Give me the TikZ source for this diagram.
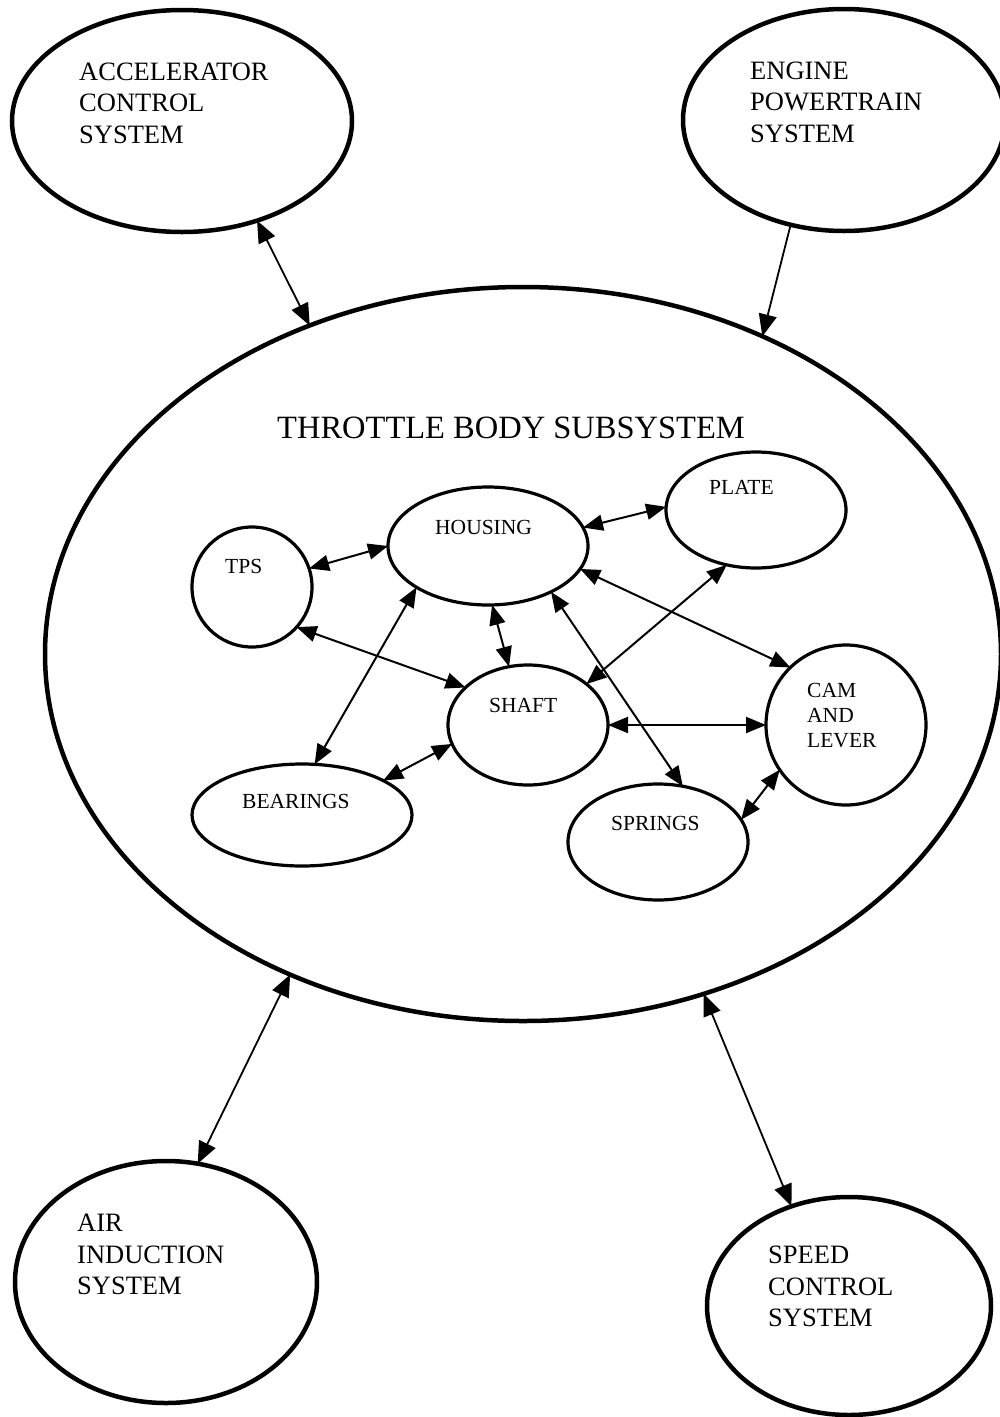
\documentclass[tikz,border=0pt]{standalone}
\usepackage{fontspec}
\setmainfont{Liberation Serif}
\usetikzlibrary{shapes.geometric,arrows.meta}
\begin{document}
\begin{tikzpicture}[x=1pt,y=-1pt,
  outerell/.style={draw, ellipse, line width=4.5pt, inner sep=0pt, outer sep=0pt},
  innerell/.style={draw, ellipse, line width=3.2pt, inner sep=0pt, outer sep=0pt},
  bigtext/.style={font=\fontsize{26.5}{31.5}\selectfont, align=left, anchor=north west, inner sep=0pt},
  smalltext/.style={font=\fontsize{21.5}{25}\selectfont, align=left, inner sep=0pt},
  outarrow/.style={line width=1.8pt, >={Triangle[length=22pt,width=18pt]}, <->},
  outsingle/.style={line width=1.8pt, >={Triangle[length=22pt,width=18pt]}, ->},
  inarrow/.style={line width=2pt, >={Triangle[length=20pt,width=16pt]}, <->}
]
\useasboundingbox (0,0) rectangle (1000,1417);
\fill[white] (0,0) rectangle (1000,1417);

% outer systems
\node[outerell, minimum width=340pt, minimum height=222pt] (acc) at (182,121) {};
\node[outerell, minimum width=322pt, minimum height=222pt] (eng) at (844,120) {};
\node[outerell, minimum width=956pt, minimum height=734pt] (big) at (523,654) {};
\node[outerell, minimum width=302pt, minimum height=242pt] (air) at (166,1282) {};
\node[outerell, minimum width=284pt, minimum height=218pt] (speed) at (849,1306) {};

\node[bigtext] (acct) at (79,62.5) {ACCELERATOR\\CONTROL\\SYSTEM};
\node[bigtext] (engt) at (750,61.5) {ENGINE\\POWERTRAIN\\SYSTEM};
\node[bigtext] (airt) at (77,1214) {AIR\\INDUCTION\\SYSTEM};
\node[bigtext] (speedt) at (768,1246) {SPEED\\CONTROL\\SYSTEM};
\node[font=\fontsize{32.5}{36}\selectfont, anchor=base west, inner sep=0pt] (title) at (277,438) {THROTTLE BODY SUBSYSTEM};

% inner components
\node[innerell, minimum width=120pt, minimum height=120pt] (tps) at (252,587) {};
\node[innerell, minimum width=200pt, minimum height=118pt] (housing) at (488,546) {};
\node[innerell, minimum width=160pt, minimum height=120pt] (shaft) at (528,725) {};
\node[innerell, minimum width=220pt, minimum height=102pt] (bearings) at (302,815) {};
\node[innerell, minimum width=180pt, minimum height=116pt] (plate) at (756,510) {};
\node[innerell, minimum width=160pt, minimum height=160pt] (cam) at (846,725) {};
\node[innerell, minimum width=180pt, minimum height=116pt] (springs) at (658,842) {};

\node[smalltext, anchor=base west] (tpst) at (225,573) {TPS};
\node[smalltext, anchor=base west] (housingt) at (435,534) {HOUSING};
\node[smalltext, anchor=base west] (shaftt) at (489,712) {SHAFT};
\node[smalltext, anchor=base west] (bearingst) at (242,808) {BEARINGS};
\node[smalltext, anchor=base west] (platet) at (709,494) {PLATE};
\node[smalltext, anchor=base west] (springst) at (611,830) {SPRINGS};
\node[smalltext, anchor=north west] (camt) at (807,683) {CAM\\AND\\LEVER};

% outer connectors
\draw[outarrow] (acc.-53) -- (big.123);
\draw[outsingle] (eng.-117) -- (big.53);
\draw[outarrow] (air.75) -- (big.-126);
\draw[outarrow] (speed.120) -- (big.-62);

% inner connectors
\draw[inarrow] (tps.18) -- (housing.180);
\draw[inarrow] (housing.11) -- (plate.178);
\draw[inarrow] (housing.-86) -- (shaft.108);
\draw[inarrow] (housing.-150) -- (bearings.76);
\draw[inarrow] (tps.-42) -- (shaft.149);
\draw[inarrow] (bearings.23) -- (shaft.-166);
\draw[inarrow] (housing.-14) -- (cam.134);
\draw[inarrow] (housing.-36) -- (springs.66);
\draw[inarrow] (shaft.35) -- (plate.-118);
\draw[inarrow] (shaft.0) -- (cam.180);
\draw[inarrow] (springs.15) -- (cam.-146);
\end{tikzpicture}
\end{document}
